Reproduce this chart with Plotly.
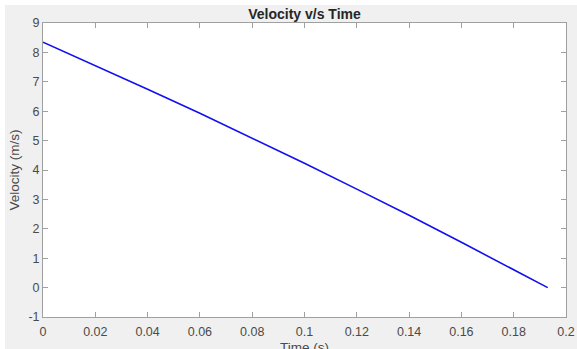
import plotly.graph_objects as go

# Data
time_s = [0.0, 0.02, 0.04, 0.06, 0.08, 0.10, 0.12, 0.14, 0.16, 0.18, 0.193]
velocity = [8.35, 7.56, 6.75, 5.93, 5.09, 4.23, 3.35, 2.46, 1.54, 0.61, 0.0]

x_ticks = [0, 0.02, 0.04, 0.06, 0.08, 0.1, 0.12, 0.14, 0.16, 0.18, 0.2]
x_tick_labels = ["0", "0.02", "0.04", "0.06", "0.08", "0.1", "0.12", "0.14", "0.16", "0.18", "0.2"]
y_ticks = [-1, 0, 1, 2, 3, 4, 5, 6, 7, 8, 9]
y_tick_labels = ["-1", "0", "1", "2", "3", "4", "5", "6", "7", "8", "9"]

W, H = 577, 349
ML, MR, MT, MB = 43, 11, 23, 32
pw = W - ML - MR
ph = H - MT - MB
FONT = "Arial, Liberation Sans"

fig = go.Figure()
fig.add_trace(go.Scatter(x=time_s, y=velocity, mode="lines",
                         line=dict(color="#1010f0", width=1.6), showlegend=False))

axis_common = dict(
    showgrid=False, zeroline=False, showline=True, linecolor="#a0a0a0", linewidth=1,
    mirror="ticks", ticks="inside", ticklen=5, tickcolor="#a0a0a0", tickwidth=1,
    tickfont=dict(family=FONT, size=12.5, color="#4a4a4a"),
    automargin=False,
)

fig.update_xaxes(range=[0, 0.2], tickvals=x_ticks, ticktext=x_tick_labels,
                 ticklabelstandoff=3, **axis_common)
fig.update_yaxes(range=[-1, 9], tickvals=y_ticks, ticktext=y_tick_labels,
                 title=dict(text="Velocity (m/s)", standoff=5,
                            font=dict(family=FONT, size=13.5, color="#4a4a4a")),
                 **axis_common)

# x-axis title placed low, partly cut by the window edge as in the reference
fig.add_annotation(text="Time (s)", xref="paper", yref="paper", x=0.5,
                   y=-(338 - (MT + ph)) / ph, xanchor="center", yanchor="top",
                   showarrow=False, font=dict(family=FONT, size=13.5, color="#4a4a4a"))

# white strips at top and left edge of the figure (window frame)
fig.add_shape(type="rect", xref="paper", yref="paper", layer="below",
              x0=-ML / pw, x1=(W - ML) / pw, y0=1 + (MT - 5) / ph, y1=1 + MT / ph,
              fillcolor="white", line=dict(width=0))
fig.add_shape(type="rect", xref="paper", yref="paper", layer="below",
              x0=-ML / pw, x1=(5 - ML) / pw, y0=-MB / ph, y1=1 + MT / ph,
              fillcolor="white", line=dict(width=0))

fig.update_layout(
    width=W, height=H,
    margin=dict(l=ML, r=MR, t=MT, b=MB, pad=0),
    paper_bgcolor="#f0f0f0", plot_bgcolor="white",
    title=dict(text="<b>Velocity v/s Time</b>", x=(ML + pw / 2) / W, xanchor="center",
               y=1 - 14 / H, yanchor="middle", yref="container",
               font=dict(family=FONT, size=14, color="#262626")),
)

fig.write_html("out.html")
